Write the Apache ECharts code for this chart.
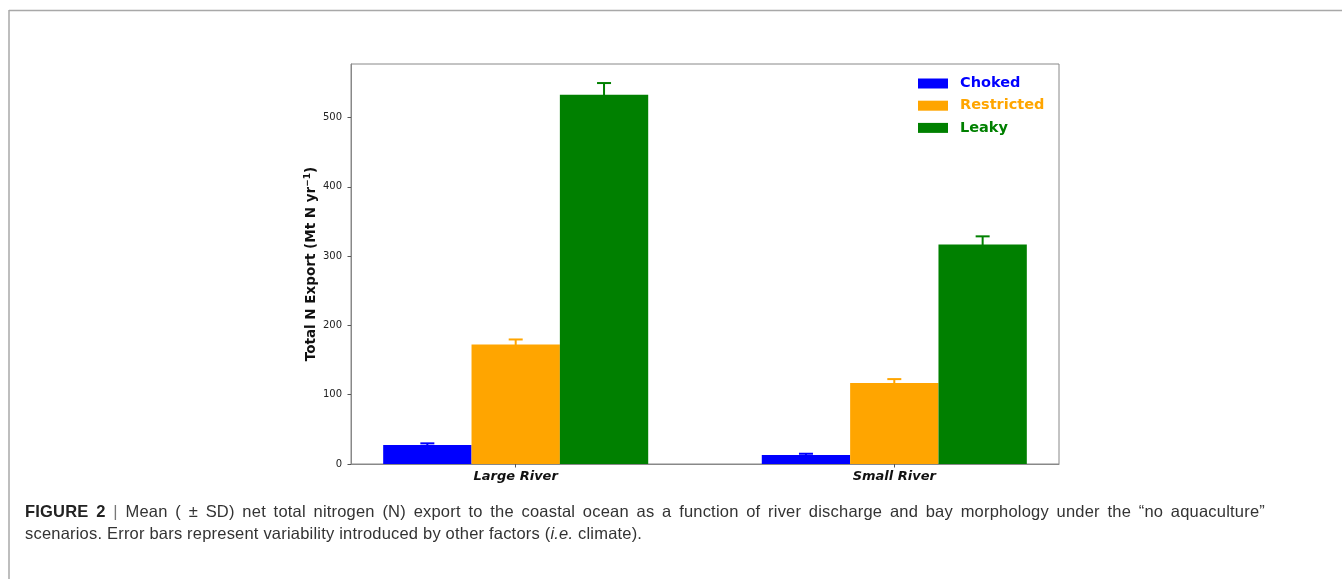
<!DOCTYPE html>
<html>
<head>
<meta charset="utf-8">
<script src="https://cdn.jsdelivr.net/npm/echarts@6/dist/echarts.min.js"></script>
<style>
  html, body { margin: 0; padding: 0; background: #fff; }
  #wrap { position: relative; width: 1342px; height: 579px; overflow: hidden; }
  #chart { position: absolute; left: 0; top: 0; width: 1342px; height: 579px; }
  .caption {
    position: absolute; left: 25px; width: 1240px;
    font-family: 'Liberation Sans', Arial, sans-serif; font-size: 16.5px; line-height: 22px;
    letter-spacing: 0.2px; color: #333; white-space: nowrap;
  }
  .caption b { color: #222; }
  .caption .bar { color: #777; }
  #cap1 { top: 500px; text-align: justify; text-align-last: justify; white-space: normal; }
  #cap2 { top: 522px; }
</style>
</head>
<body>
<div id="wrap">
  <div id="chart"></div>
  <div class="caption" id="cap1"><b>FIGURE 2</b> <span class="bar">|</span> Mean ( ± SD) net total nitrogen (N) export to the coastal ocean as a function of river discharge and bay morphology under the “no aquaculture”</div>
  <div class="caption" id="cap2">scenarios. Error bars represent variability introduced by other factors (<i>i.e.</i> climate).</div>
</div>
<script>
// River discharge classes and bay morphology scenarios
const categories = ['Large River', 'Small River'];
const scenarios = ['Choked', 'Restricted', 'Leaky'];

// Mean net total N export (Mt N yr-1) and its standard deviation
const chokedMean = [27.4, 13.0];
const chokedSD = [2.4, 1.8];
const restrictedMean = [172.5, 116.7];
const restrictedSD = [7.2, 5.8];
const leakyMean = [532.7, 316.6];
const leakySD = [17.0, 11.9];

const yTicks = [0, 100, 200, 300, 400, 500];

const colors = ['#0000ff', '#ffa500', '#008000'];
const means = [chokedMean, restrictedMean, leakyMean];
const sds = [chokedSD, restrictedSD, leakySD];

// grouped bars: three bars share 0.7 of each category slot
const barW = 0.7 / 3;
const xLo = -1.5 * barW, xHi = categories.length - 1 + 1.5 * barW;
const xPad = 0.05 * (xHi - xLo);
let dataTop = 0;
means.forEach((m, s) => m.forEach((v, i) => { dataTop = Math.max(dataTop, v + sds[s][i]); }));
const yMax = dataTop * 1.05;

function barSeries(s) {
  const color = colors[s];
  return {
    type: 'custom',
    name: scenarios[s],
    itemStyle: { color: color },
    clip: false,
    encode: { x: 0, y: 1 },
    data: means[s].map((v, i) => [i, v, sds[s][i]]),
    renderItem: function (params, api) {
      const c = api.value(0), v = api.value(1), sd = api.value(2);
      const xc = c + (s - 1) * barW;
      const p0 = api.coord([xc - barW / 2, v]);
      const p1 = api.coord([xc + barW / 2, 0]);
      const hi = api.coord([xc, v + sd]);
      const lo = api.coord([xc, v - sd]);
      return {
        type: 'group',
        children: [
          { type: 'rect', shape: { x: p0[0], y: p0[1], width: p1[0] - p0[0], height: p1[1] - p0[1] },
            style: { fill: color } },
          { type: 'line', shape: { x1: hi[0], y1: hi[1], x2: lo[0], y2: lo[1] },
            style: { stroke: color, lineWidth: 2 } },
          { type: 'line', shape: { x1: hi[0] - 7, y1: hi[1], x2: hi[0] + 7, y2: hi[1] },
            style: { stroke: color, lineWidth: 2 } }
        ]
      };
    }
  };
}

const chart = echarts.init(document.getElementById('chart'), null, { renderer: 'canvas' });

chart.setOption({
  animation: false,
  backgroundColor: '#fff',
  grid: {
    left: 351, top: 64, right: 283, bottom: 115,
    show: true, borderColor: '#888', borderWidth: 1
  },
  legend: {
    orient: 'vertical',
    left: 918, top: 76,
    padding: 0,
    itemWidth: 30, itemHeight: 10, itemGap: 7.2,
    icon: 'rect',
    textStyle: { fontFamily: 'DejaVu Sans', fontWeight: 'bold', fontSize: 14.5, lineHeight: 14, padding: [0, 0, 0, 7] },
    data: scenarios.map((n, s) => ({ name: n, textStyle: { color: colors[s] } }))
  },
  xAxis: {
    type: 'value',
    min: xLo - xPad, max: xHi + xPad,
    z: 10,
    splitLine: { show: false },
    axisLine: { show: true, onZero: false, lineStyle: { color: '#888', width: 1 } },
    axisTick: { show: true, customValues: categories.map((c, i) => i), length: 3.5, lineStyle: { color: '#555' } },
    axisLabel: {
      customValues: categories.map((c, i) => i),
      formatter: v => categories[Math.round(v)],
      margin: 6,
      fontFamily: 'DejaVu Sans', fontSize: 13, fontWeight: 'bold', fontStyle: 'italic', color: '#111'
    }
  },
  yAxis: {
    type: 'value',
    min: 0, max: yMax,
    z: 10,
    splitLine: { show: false },
    axisLine: { show: true, onZero: false, lineStyle: { color: '#888', width: 1 } },
    axisTick: { show: true, customValues: yTicks, length: 3.5, lineStyle: { color: '#555' } },
    axisLabel: {
      customValues: yTicks,
      margin: 9,
      fontFamily: 'DejaVu Sans', fontSize: 10, color: '#222'
    },
    name: 'Total N Export (Mt N yr{sup|−1})',
    nameLocation: 'middle',
    nameGap: 31,
    nameMoveOverlap: false,
    nameTextStyle: {
      fontFamily: 'DejaVu Sans', fontSize: 13.5, fontWeight: 'bold', color: '#111',
      rich: { sup: { fontFamily: 'DejaVu Sans', fontSize: 9, fontWeight: 'bold', color: '#111', padding: [0, 0, 8, 0] } }
    }
  },
  graphic: [
    { type: 'line', shape: { x1: 9, y1: 10.5, x2: 1342, y2: 10.5 }, style: { stroke: '#a8a8a8', lineWidth: 1.5 } },
    { type: 'line', shape: { x1: 9, y1: 10, x2: 9, y2: 579 }, style: { stroke: '#a8a8a8', lineWidth: 1.5 } }
  ],
  series: scenarios.map((n, s) => barSeries(s))
});
</script>
</body>
</html>
